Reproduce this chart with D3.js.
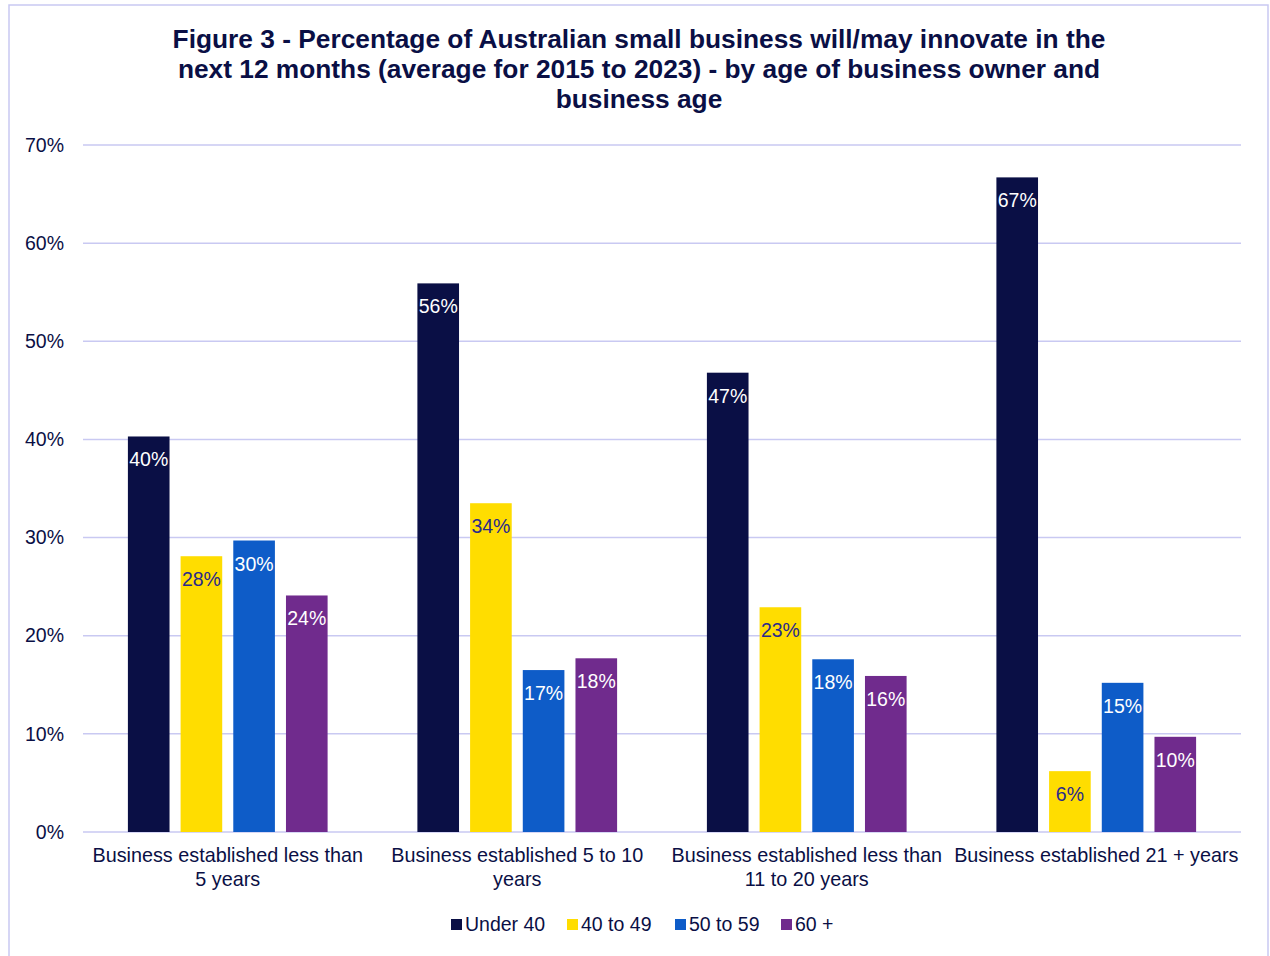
<!DOCTYPE html>
<html>
<head>
<meta charset="utf-8">
<script src="https://cdn.jsdelivr.net/npm/d3@7"></script>
<style>
  body { margin: 0; background: #fff; }
  text { font-family: "Liberation Sans", Arial, sans-serif; }
</style>
</head>
<body>
<div id="chart"></div>
<script>
// data
const categories = [
  ["Business established less than", "5 years"],
  ["Business established 5 to 10", "years"],
  ["Business established less than", "11 to 20 years"],
  ["Business established 21 + years"]
];
const seriesNames = ["Under 40", "40 to 49", "50 to 59", "60 +"];
const under40 = [40.3, 55.9, 46.8, 66.7];
const age40to49 = [28.1, 33.5, 22.9, 6.2];
const age50to59 = [29.7, 16.5, 17.6, 15.2];
const age60plus = [24.1, 17.7, 15.9, 9.7];
const yTicks = [0, 10, 20, 30, 40, 50, 60, 70];
const titleLines = [
  "Figure 3 - Percentage of Australian small business will/may innovate in the",
  "next 12 months (average for 2015 to 2023) - by age of business owner and",
  "business age"
];

const colors = ["#0a0f45", "#ffdd00", "#0e5cc8", "#702b8d"];
const labelColors = ["#ffffff", "#2a2a8c", "#ffffff", "#ffffff"];
const textColor = "#0a0f45";

const series = [under40, age40to49, age50to59, age60plus];

const width = 1270, height = 956;
const margin = { left: 83, right: 29, top: 145, bottom: 124 };

const svg = d3.select("#chart").append("svg")
  .attr("width", width)
  .attr("height", height);

// outer border
svg.append("rect")
  .attr("x", 9).attr("y", 5)
  .attr("width", 1259).attr("height", 960)
  .attr("fill", "none")
  .attr("stroke", "#c9c9f2")
  .attr("stroke-width", 1.5);

// title
svg.append("g").selectAll("text")
  .data(titleLines)
  .join("text")
  .attr("x", 639)
  .attr("y", (d, i) => 48 + i * 30)
  .attr("text-anchor", "middle")
  .attr("font-size", 26.3)
  .attr("font-weight", "bold")
  .attr("fill", textColor)
  .text(d => d);

const x0 = d3.scaleBand()
  .domain(d3.range(categories.length))
  .range([margin.left, width - margin.right]);

const groupWidth = 199.7;
const x1 = d3.scaleBand()
  .domain(d3.range(seriesNames.length))
  .range([0, groupWidth])
  .paddingInner(0.21)
  .paddingOuter(0);

const groupOffset = (x0.bandwidth() - groupWidth) / 2;

const y = d3.scaleLinear()
  .domain([0, 70])
  .range([height - margin.bottom, margin.top]);

// gridlines
svg.append("g").selectAll("line")
  .data(yTicks)
  .join("line")
  .attr("x1", margin.left)
  .attr("x2", width - margin.right)
  .attr("y1", d => y(d))
  .attr("y2", d => y(d))
  .attr("stroke", "#c9c9f2")
  .attr("stroke-width", 1.5);

// y axis labels
const yAxis = d3.axisLeft(y).tickValues(yTicks).tickFormat(d => d + "%").tickSize(0).tickPadding(19);
const yg = svg.append("g")
  .attr("transform", `translate(${margin.left},0)`)
  .call(yAxis);
yg.select(".domain").remove();
yg.selectAll("text")
  .attr("font-size", 19.5)
  .attr("fill", textColor)
  .attr("font-family", "Liberation Sans, Arial, sans-serif");

// bars
const groups = svg.append("g").selectAll("g")
  .data(categories.map((c, i) => i))
  .join("g")
  .attr("transform", i => `translate(${x0(i) + groupOffset},0)`);

groups.selectAll("rect")
  .data(i => series.map((s, j) => ({ j, v: s[i] })))
  .join("rect")
  .attr("x", d => x1(d.j))
  .attr("y", d => y(d.v))
  .attr("width", x1.bandwidth())
  .attr("height", d => y(0) - y(d.v))
  .attr("fill", d => colors[d.j]);

groups.selectAll("text")
  .data(i => series.map((s, j) => ({ j, v: s[i] })))
  .join("text")
  .attr("x", d => x1(d.j) + x1.bandwidth() / 2)
  .attr("y", d => y(d.v) + 30)
  .attr("text-anchor", "middle")
  .attr("font-size", 19.5)
  .attr("fill", d => labelColors[d.j])
  .text(d => Math.round(d.v) + "%");

// category labels
const catG = svg.append("g").selectAll("text")
  .data(categories)
  .join("text")
  .attr("x", (d, i) => x0(i) + x0.bandwidth() / 2)
  .attr("y", 862)
  .attr("text-anchor", "middle")
  .attr("font-size", 19.8)
  .attr("fill", textColor);
catG.selectAll("tspan")
  .data(d => d)
  .join("tspan")
  .attr("x", function() { return d3.select(this.parentNode).attr("x"); })
  .attr("dy", (d, i) => i === 0 ? 0 : 24)
  .text(d => d);

// legend
const legendX = [451, 567, 675, 781];
const legend = svg.append("g").selectAll("g")
  .data(seriesNames)
  .join("g")
  .attr("transform", (d, i) => `translate(${legendX[i]},924)`);
legend.append("rect")
  .attr("x", 0).attr("y", -5)
  .attr("width", 11).attr("height", 11)
  .attr("fill", (d, i) => colors[i]);
legend.append("text")
  .attr("x", 14)
  .attr("y", 7)
  .attr("font-size", 19.5)
  .attr("fill", textColor)
  .text(d => d);
</script>
</body>
</html>
